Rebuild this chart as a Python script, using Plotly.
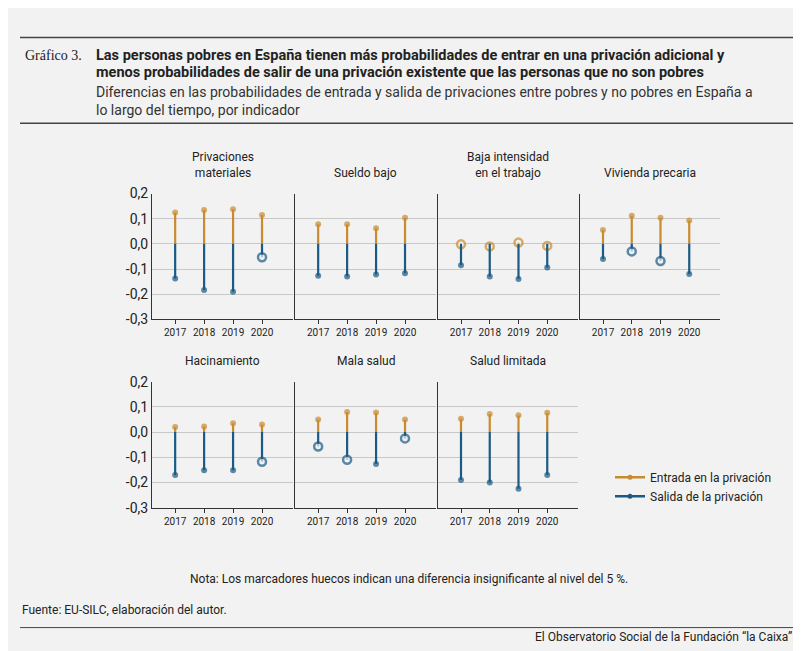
import plotly.graph_objects as go

years = [2017, 2018, 2019, 2020]
panels = ["Privaciones<br>materiales", "Sueldo bajo", "Baja intensidad<br>en el trabajo", "Vivienda precaria",
          "Hacinamiento", "Mala salud", "Salud limitada"]
entrada = [
    [0.125, 0.135, 0.138, 0.115],
    [0.078, 0.078, 0.062, 0.104],
    [-0.002, -0.010, 0.005, -0.008],
    [0.055, 0.112, 0.104, 0.093],
    [0.020, 0.022, 0.035, 0.030],
    [0.050, 0.080, 0.078, 0.050],
    [0.053, 0.072, 0.067, 0.077],
]
salida = [
    [-0.138, -0.183, -0.190, -0.053],
    [-0.127, -0.130, -0.122, -0.117],
    [-0.085, -0.130, -0.140, -0.094],
    [-0.060, -0.030, -0.068, -0.120],
    [-0.170, -0.152, -0.152, -0.118],
    [-0.057, -0.110, -0.127, -0.025],
    [-0.190, -0.200, -0.225, -0.170],
]
# 1 = hollow marker (insignificant)
entrada_hueco = [
    [0, 0, 0, 0], [0, 0, 0, 0], [1, 1, 1, 1], [0, 0, 0, 0],
    [0, 0, 0, 0], [0, 0, 0, 0], [0, 0, 0, 0],
]
salida_hueco = [
    [0, 0, 0, 1], [0, 0, 0, 0], [0, 0, 0, 0], [0, 1, 1, 0],
    [0, 0, 0, 1], [1, 1, 0, 1], [0, 0, 0, 0],
]
yticks = [0.2, 0.1, 0.0, -0.1, -0.2, -0.3]
ytext = ["0,2", "0,1", "0,0", "-0,1", "-0,2", "-0,3"]

ORANGE = "#c98b2f"
BLUE = "#1b5a84"
BG = "#f2f2f2"
W, H = 801, 651

xcols = [(144, 285), (287, 428), (430, 570), (572, 712)]
yrows = [(182, 311), (375, 504)]

fig = go.Figure()

for i, name in enumerate(panels):
    r, c = divmod(i, 4)
    n = i + 1
    xa = "x" if n == 1 else f"x{n}"
    ya = "y" if n == 1 else f"y{n}"
    x0, x1 = xcols[c]
    yt, yb = yrows[r]
    fig.layout[f"xaxis{'' if n == 1 else n}"] = dict(
        domain=[x0 / W, x1 / W], anchor=ya, range=[2016.2, 2021.07],
        tickvals=years, ticktext=[str(y) for y in years], showgrid=False,
        showline=True, linecolor="#333", linewidth=1.2, ticks="outside",
        ticklen=4, tickcolor="#333", tickfont=dict(size=10, color="#222"),
        zeroline=False, fixedrange=True)
    fig.layout[f"yaxis{'' if n == 1 else n}"] = dict(
        domain=[1 - yb / H, 1 - yt / H], anchor=xa, range=[-0.3, 0.2],
        tickvals=yticks, ticktext=ytext, showticklabels=(c == 0),
        showgrid=True, gridcolor="#c8c8c8", gridwidth=1,
        showline=True, linecolor="#333", linewidth=1, zeroline=False,
        tickfont=dict(size=14, color="#222"), fixedrange=True)
    fig.add_annotation(text=name, x=(x0 + x1) / 2 / W, y=1 - (yt - 12) / H,
                       xref="paper", yref="paper", xanchor="center", yanchor="bottom",
                       showarrow=False, align="center", font=dict(size=12, color="#222"))

    for vals, hueco, col in [(entrada[i], entrada_hueco[i], ORANGE),
                             (salida[i], salida_hueco[i], BLUE)]:
        lx, ly = [], []
        for yr, v in zip(years, vals):
            lx += [yr, yr, None]
            ly += [0, v, None]
        fig.add_trace(go.Scatter(x=lx, y=ly, mode="lines", line=dict(color=col, width=2.2),
                                 xaxis=xa, yaxis=ya, showlegend=False, hoverinfo="skip"))
        fig.add_trace(go.Scatter(
            x=years, y=vals, mode="markers", xaxis=xa, yaxis=ya, showlegend=False,
            marker=dict(color=[BG if h else col for h in hueco],
                        size=[8 if h else 6 for h in hueco],
                        line=dict(color=col, width=[2.5 if h else 0 for h in hueco]))))

for col, label in [(ORANGE, "Entrada en la privación"), (BLUE, "Salida de la privación")]:
    fig.add_trace(go.Scatter(x=[None], y=[None], mode="lines+markers", name=label,
                             line=dict(color=col, width=2.5), marker=dict(color=col, size=5)))

fig.update_layout(
    width=W, height=H, margin=dict(l=0, r=0, t=0, b=0),
    paper_bgcolor=BG, plot_bgcolor=BG,
    font=dict(family="Roboto, Liberation Sans, sans-serif", color="#222"),
    legend=dict(x=602 / W, y=1 - 458 / H, xanchor="left", yanchor="top",
                bgcolor="rgba(0,0,0,0)", font=dict(size=12), tracegroupgap=8, itemwidth=30),
)

for y, w in [(22, 1.5), (110, 1.5), (627, 1)]:
    fig.add_shape(type="line", xref="paper", yref="paper", x0=12 / W, x1=792 / W,
                  y0=1 - y / H, y1=1 - y / H, line=dict(color="#444", width=w))


def txt(s, x, y, size, xanchor="left", family=None, color="#222"):
    f = dict(size=size, color=color)
    if family:
        f["family"] = family
    fig.add_annotation(text=s, x=x / W, y=1 - y / H, xref="paper", yref="paper",
                       xanchor=xanchor, yanchor="middle", showarrow=False, font=f, align="left")


txt("Gráfico 3.", 15, 40, 14, family="Liberation Serif, serif")
txt("<b>Las personas pobres en España tienen más probabilidades de entrar en una privación adicional y</b>", 86, 40, 14.5)
txt("<b>menos probabilidades de salir de una privación existente que las personas que no son pobres</b>", 86, 58, 14.5)
txt("Diferencias en las probabilidades de entrada y salida de privaciones entre pobres y no pobres en España a", 86, 78, 14, color="#333")
txt("lo largo del tiempo, por indicador", 86, 96, 14, color="#333")
txt("Nota: Los marcadores huecos indican una diferencia insignificante al nivel del 5 %.", 401, 577, 12, xanchor="center")
txt("Fuente: EU-SILC, elaboración del autor.", 12, 609, 12)
txt("El Observatorio Social de la Fundación “la Caixa”.", 789, 637, 12, xanchor="right")

fig.write_html("out.html")
